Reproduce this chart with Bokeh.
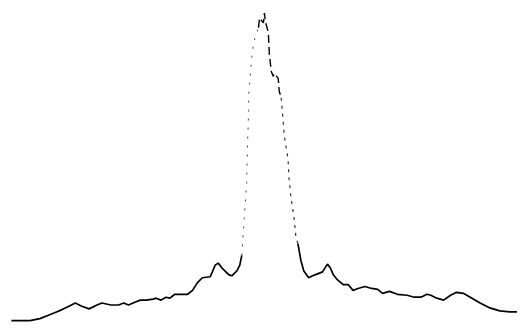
from bokeh.plotting import figure
from bokeh.models import Range1d
from bokeh.embed import file_html
from bokeh.resources import INLINE

# Trace of the scanned spectrum (x: position, y: intensity)
pos = [11, 30, 40, 50, 55, 62, 68, 76, 82, 90, 98, 103, 112, 120, 125, 130, 137, 142,
       148, 155, 158, 163, 168, 172, 177, 182, 190, 195, 200, 205, 213, 218, 221, 225,
       232, 235, 240, 243, 245,
       250, 251, 252, 252, 253, 255, 257, 262, 263, 267, 268, 269, 272, 273, 275, 277,
       278, 282, 283, 285, 287, 288, 292, 293, 295, 298, 300,
       302, 305, 308, 313, 317, 322, 327, 332, 335, 338, 342, 348, 353, 358, 363, 370,
       377, 383, 388, 395, 403, 413, 420, 427, 433, 437, 443, 450, 457, 463, 470, 477,
       487, 497, 507, 517, 525]
intensity = [1, 1, 3, 7, 9, 12, 15, 19, 16, 13, 17, 19, 17, 17, 19, 17, 20, 22,
             22, 23, 24, 22, 25, 24, 28, 28, 28, 32, 40, 45, 46, 58, 60, 55,
             48, 47, 52, 58, 68,
             143, 187, 217, 233, 245, 270, 287, 302, 312, 307, 317, 308, 297, 275, 257, 252,
             255, 250, 237, 230, 207, 192, 167, 147, 127, 107, 87,
             80, 63, 52, 45, 47, 49, 51, 59, 55, 48, 43, 38, 38, 32, 34, 36,
             34, 33, 29, 31, 28, 27, 25, 25, 28, 27, 24, 22, 27, 30, 29, 25,
             19, 14, 11, 10, 10]

p = figure(width=517, height=322, output_backend="svg", toolbar_location=None,
           x_range=Range1d(0, 525), y_range=Range1d(-1, 330),
           min_border=0, min_border_left=0, min_border_right=0,
           min_border_top=0, min_border_bottom=0)
p.axis.visible = False
p.grid.visible = False
p.outline_line_color = None
p.background_fill_color = "white"

i_left = pos.index(245) + 1
i_top0 = 46  # index of x=257
i_top1 = 58  # index of x=285
i_right = 66  # index of x=302

# baseline parts, solid
p.line(pos[:i_left], intensity[:i_left], line_color="black", line_width=1.7)
p.line(pos[i_right:], intensity[i_right:], line_color="black", line_width=1.7)
# steep flanks, faint dotted (scan fading)
p.line(pos[i_left - 1:i_top0 + 1], intensity[i_left - 1:i_top0 + 1], line_color="#444444",
       line_width=1.0, line_dash="2 7")
p.line(pos[i_top1:i_right + 1], intensity[i_top1:i_right + 1], line_color="#333333",
       line_width=1.2, line_dash="3 5")
# top of the peak
p.line(pos[i_top0:i_top1 + 1], intensity[i_top0:i_top1 + 1], line_color="black",
       line_width=1.4, line_dash="8 4")

open("out.html", "w").write(file_html(p, INLINE))
